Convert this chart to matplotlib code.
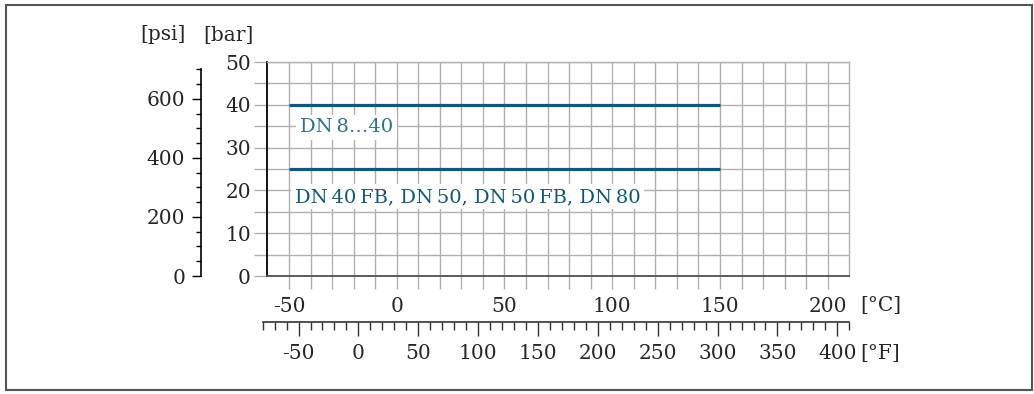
import numpy as np
import matplotlib
matplotlib.use("Agg")
from matplotlib import pyplot as plt
from matplotlib import font_manager
from matplotlib.patches import Rectangle
from matplotlib.ticker import FixedLocator, MultipleLocator

# pressure ratings (bar) over temperature range (°C)
curve_names = ["DN\u20098\u202640", "DN\u200940\u2009FB, DN\u200950, DN\u200950\u2009FB, DN\u200980"]
curve_t_min = [-50, -50]
curve_t_max = [150, 150]
curve_p_bar = [40, 25]
label_pos = [(-44.9, 33.6), (-47.2, 17.3)]

c_ticks = [-50, 0, 50, 100, 150, 200]
c_labels = ["-50", "0", "50", "100", "150", "200"]
bar_ticks = [0, 10, 20, 30, 40, 50]
bar_labels = ["0", "10", "20", "30", "40", "50"]
psi_ticks = [0, 200, 400, 600]
psi_labels = ["0", "200", "400", "600"]
f_ticks = [-50, 0, 50, 100, 150, 200, 250, 300, 350, 400]
f_labels = ["-50", "0", "50", "100", "150", "200", "250", "300", "350", "400"]

PSI_PER_BAR = 14.5038
W, H = 1034, 394
txt_col = "#262626"
grid_col = "#b0b0b0"
line_col = "#0f5a7a"

names = {f.name for f in font_manager.fontManager.ttflist}
fam = "DejaVu Serif"
cond = "DejaVu Serif Condensed" if "DejaVu Serif Condensed" in names else "DejaVu Serif"
dn_size = 15.5 if cond != fam else 14.0
plt.rcParams["font.family"] = fam
plt.rcParams["font.size"] = 14.5

def f2c(f):
    return (f - 32) * 5 / 9

fig = plt.figure(figsize=(W / 100, H / 100), dpi=100)

# main axes (°C / bar)
x0, x1 = 267.4 / W, 849.3 / W
y0, y1 = 1 - 276 / H, 1 - 62 / H
ax = fig.add_axes([x0, y0, x1 - x0, y1 - y0])
ax.set_xlim(-60, 210)
ax.set_ylim(0, 50)

ax.xaxis.set_major_locator(FixedLocator(c_ticks))
ax.set_xticklabels(c_labels)
ax.xaxis.set_minor_locator(FixedLocator([v for v in range(-50, 210, 10) if v not in c_ticks]))
ax.yaxis.set_major_locator(FixedLocator(bar_ticks))
ax.set_yticklabels(bar_labels)
ax.yaxis.set_minor_locator(MultipleLocator(5))
ax.grid(which="both", color=grid_col, lw=1.0, zorder=0)
ax.set_axisbelow(True)
ax.tick_params(which="both", axis="both", direction="out", length=9.4, width=1.0,
               color=grid_col, labelcolor=txt_col, labelsize=14.5)
ax.tick_params(axis="x", which="both", pad=5.5)
ax.tick_params(axis="y", which="both", pad=2.5)
ax.spines["left"].set_color("black")
ax.spines["left"].set_linewidth(1.3)
ax.spines["bottom"].set_color("#505050")
ax.spines["bottom"].set_linewidth(1.3)
for s in ("top", "right"):
    ax.spines[s].set_color(grid_col)
    ax.spines[s].set_linewidth(1.0)

for name, t0, t1, p, (lx, ly), tc in zip(curve_names, curve_t_min, curve_t_max, curve_p_bar,
                                         label_pos, ["#2c7190", "#0d5875"]):
    ax.plot([t0, t1], [p, p], color=line_col, lw=2.3, solid_capstyle="butt", zorder=3)
    ax.text(lx, ly, name, color=tc, fontsize=dn_size, family=cond, va="baseline", ha="left",
            zorder=4, bbox=dict(facecolor="white", edgecolor="none", pad=2.5))

# psi axis
axp = fig.add_axes([201 / W, y0, 0.0005, y1 - y0])
axp.set_ylim(0, 50 * PSI_PER_BAR)
axp.patch.set_visible(False)
for s in ("top", "right", "bottom"):
    axp.spines[s].set_visible(False)
axp.spines["left"].set_bounds(0, 700)
axp.spines["left"].set_linewidth(1.2)
axp.set_xticks([])
axp.yaxis.set_major_locator(FixedLocator(psi_ticks))
axp.set_yticklabels(psi_labels)
axp.yaxis.set_minor_locator(FixedLocator([v for v in range(50, 701, 50) if v not in psi_ticks]))
axp.tick_params(axis="y", which="major", length=6.5, width=1.0, pad=5, labelcolor=txt_col,
                labelsize=14.5)
axp.tick_params(axis="y", which="minor", length=3.8, width=1.0)

# °F axis
f_lo, f_hi = -80, 410
fx0 = x0 + (f2c(f_lo) + 60) / 270 * (x1 - x0)
fx1 = x0 + (f2c(f_hi) + 60) / 270 * (x1 - x0)
fy = 1 - 322 / H
axf = fig.add_axes([fx0, fy, fx1 - fx0, 0.0005])
axf.set_xlim(f_lo, f_hi)
axf.patch.set_visible(False)
for s in ("top", "right", "left"):
    axf.spines[s].set_visible(False)
axf.spines["bottom"].set_linewidth(1.2)
axf.spines["bottom"].set_color("#333333")
axf.set_yticks([])
axf.xaxis.set_major_locator(FixedLocator(f_ticks))
axf.set_xticklabels(f_labels)
axf.xaxis.set_minor_locator(FixedLocator([v for v in range(f_lo, f_hi + 1, 10) if v not in f_ticks]))
axf.tick_params(axis="x", which="major", length=10, width=1.0, pad=6, color="#333333",
                labelcolor=txt_col, labelsize=14.5)
axf.tick_params(axis="x", which="minor", length=5.8, width=1.0, color="#333333")

# unit labels
fig.text(163 / W, 1 - 35 / H, "[psi]", ha="center", va="center", color=txt_col, fontsize=14.5)
fig.text(228 / W, 1 - 35 / H, "[bar]", ha="center", va="center", color=txt_col, fontsize=14.5)
fig.text(860 / W, 1 - 305 / H, "[°C]", ha="left", va="center", color=txt_col, fontsize=14.5)
fig.text(860 / W, 1 - 353 / H, "[°F]", ha="left", va="center", color=txt_col, fontsize=14.5)

# frame
fig.patches.append(Rectangle((6 / W, 4 / H), 1026 / W, 385 / H, transform=fig.transFigure,
                             fill=False, edgecolor="#555555", lw=1.5))

fig.savefig("out.png", dpi=100)
